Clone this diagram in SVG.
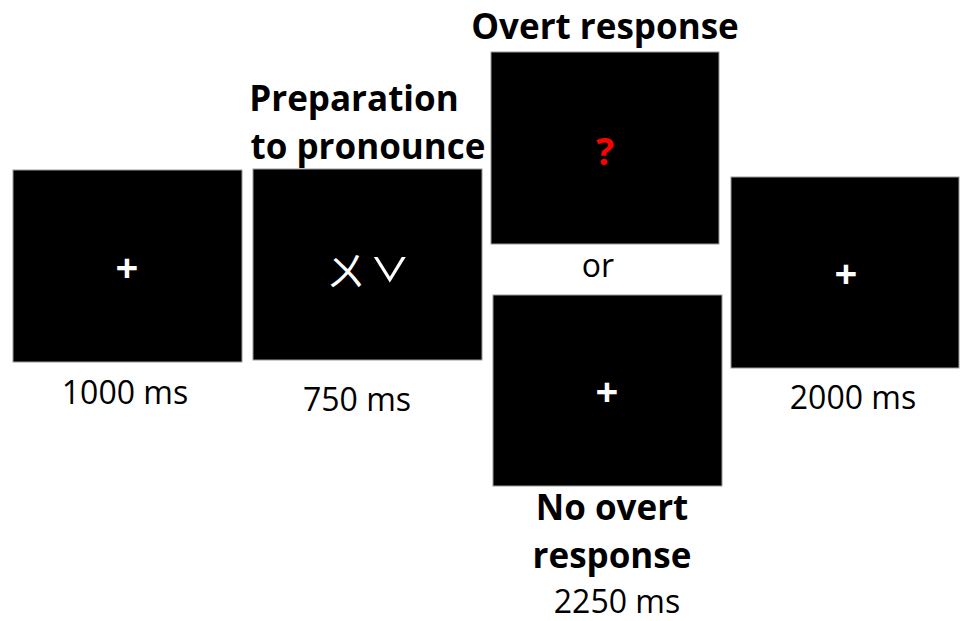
<svg xmlns="http://www.w3.org/2000/svg" width="966" height="621" viewBox="0 0 966 621">
  <style>
    .screen { fill: #000; stroke: #9a9a9a; stroke-width: 1; }
    .title { font-family: "Open Sans", "Liberation Sans", sans-serif; font-weight: 700; font-size: 35px; fill: #000; text-anchor: middle; }
    .dur { font-family: "Open Sans", "Liberation Sans", sans-serif; font-size: 32px; fill: #000; text-anchor: middle; }
    .fix { font-family: "Open Sans", "Liberation Sans", sans-serif; font-weight: 700; font-size: 40px; fill: #fff; text-anchor: middle; }
    .cue { font-family: "Open Sans", "Liberation Sans", sans-serif; font-weight: 700; font-size: 38px; fill: #f00; text-anchor: middle; }
    .zhuyin { font-family: "Noto Sans CJK TC", "Noto Sans CJK SC", sans-serif; fill: #fff; text-anchor: middle; }
  </style>
  <rect width="966" height="621" fill="#fff"/>

  <!-- fixation -->
  <g id="fixation">
    <rect class="screen" x="13" y="170" width="229" height="192"/>
    <text class="fix" x="127" y="282">+</text>
    <text class="dur" x="125" y="404">1000 ms</text>
  </g>

  <!-- preparation: zhuyin syllable with third-tone mark -->
  <g id="preparation">
    <text class="title" x="354" y="111">Preparation</text>
    <text class="title" x="368" y="159">to pronounce</text>
    <rect class="screen" x="253" y="169" width="229" height="191"/>
    <text class="zhuyin" x="346" y="286" font-size="40">ㄨ</text>
    <text class="zhuyin" x="390" y="313" font-size="68" font-weight="300">ˇ</text>
    <text class="dur" x="357" y="411">750 ms</text>
  </g>

  <!-- overt response -->
  <g id="overt">
    <text class="title" x="605" y="39">Overt response</text>
    <rect class="screen" x="491" y="52" width="228" height="192"/>
    <text class="cue" x="605" y="165">?</text>
  </g>

  <text class="dur" x="598" y="277" font-size="34">or</text>

  <!-- no overt response -->
  <g id="no-overt">
    <rect class="screen" x="493" y="295" width="229" height="191"/>
    <text class="fix" x="607" y="406">+</text>
    <text class="title" x="612" y="520">No overt</text>
    <text class="title" x="612" y="568">response</text>
    <text class="dur" x="617" y="613">2250 ms</text>
  </g>

  <!-- inter-trial fixation -->
  <g id="iti">
    <rect class="screen" x="731" y="177" width="228" height="191"/>
    <text class="fix" x="846" y="288">+</text>
    <text class="dur" x="853" y="409">2000 ms</text>
  </g>

  <g id="connectors"/>
</svg>
